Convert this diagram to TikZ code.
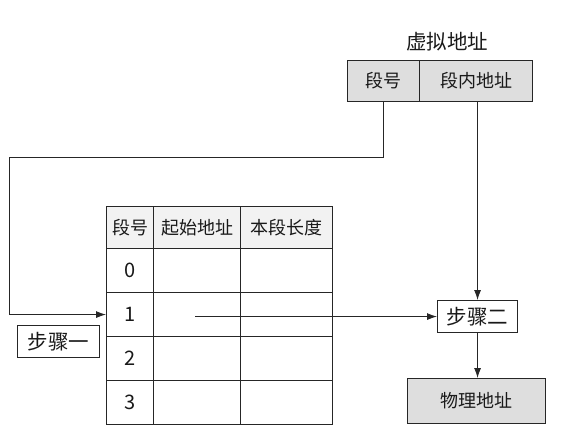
\documentclass[tikz,border=0pt]{standalone}
\usepackage{fontspec}
\setmainfont{Noto Sans CJK SC}
\usetikzlibrary{arrows.meta}
\begin{document}
\begin{tikzpicture}[x=1pt,y=-1pt,
  line width=1pt,
  every node/.style={inner sep=0pt},
  conn/.style={draw=black!85,line width=0.9pt},
  arr/.style={conn,-{Latex[length=10pt,width=7pt]}},
  shaded/.style={draw=black!85,line width=1.1pt,fill=black!13},
  hdr/.style={draw=black!85,line width=1.1pt,fill=black!5},
  cell/.style={draw=black!85,line width=1.1pt},
  txt/.style={font=\fontsize{18}{19}\selectfont,text=black!90},
  digit/.style={font=\fontsize{20}{21}\selectfont,text=black!90},
  bigtxt/.style={font=\fontsize{20.5}{21}\selectfont,text=black!90}]
\useasboundingbox (0,0) rectangle (561,434);
% virtual address
\node[bigtxt] (title) at (447,42) {虚拟地址};
\node[shaded,minimum width=72,minimum height=41,anchor=north west,txt] (segno) at (347,60) {段号};
\node[shaded,minimum width=113,minimum height=41,anchor=north west,txt] (offset) at (419,60) {段内地址};
% table
\node[hdr,minimum width=47,minimum height=42,anchor=north west,txt] (h1) at (106,206) {段号};
\node[hdr,minimum width=87,minimum height=42,anchor=north west,txt] (h2) at (153,206) {起始地址};
\node[hdr,minimum width=92,minimum height=42,anchor=north west,txt] (h3) at (240,206) {本段长度};
\foreach \i/\yy in {0/248,1/292,2/336,3/380} {
  \node[cell,minimum width=47,minimum height=44,anchor=north west,digit] (ra\i) at (106,\yy) {\i};
  \node[cell,minimum width=87,minimum height=44,anchor=north west] (rb\i) at (153,\yy) {};
  \node[cell,minimum width=92,minimum height=44,anchor=north west] (rc\i) at (240,\yy) {};
}
% steps
\node[draw=black!85,line width=1.1pt,minimum width=82,minimum height=32,anchor=north west,bigtxt] (step1) at (17,325) {步骤一};
\node[draw=black!85,line width=1.1pt,minimum width=80,minimum height=32,anchor=north west,bigtxt] (step2) at (437,300) {步骤二};
\node[shaded,minimum width=138,minimum height=45,anchor=north west,txt] (phys) at (407,378) {物理地址};
% connectors
\coordinate (c1) at (383,157);
\coordinate (c2) at (9,157);
\coordinate (s1) at (195,314);
\draw[arr] (segno.south -| c1) -- (c1) -- (c2) -- (c2 |- ra1.west) -- (ra1.west);
\draw[arr] (offset.south -| step2.north) -- (step2.north);
\draw[arr] (s1 |- step2.west) -- (step2.west);
\draw[arr] (step2.south) -- (step2.south |- phys.north);
\end{tikzpicture}
\end{document}
